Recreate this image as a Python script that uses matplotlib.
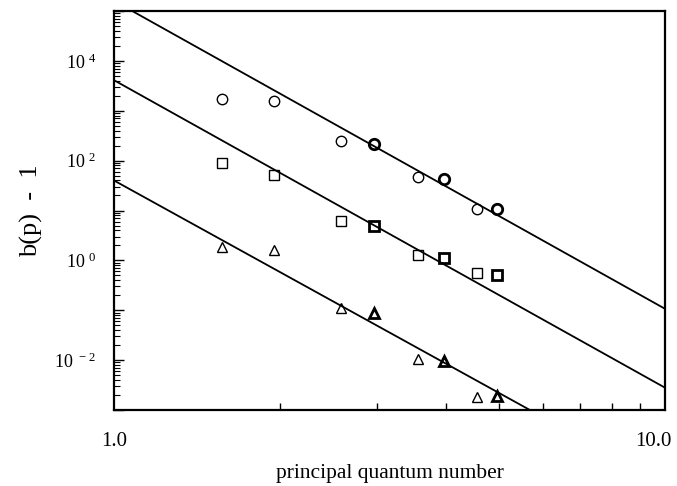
import numpy as np
import matplotlib
matplotlib.use("Agg")
import matplotlib.pyplot as plt
from matplotlib.ticker import FixedLocator, LogLocator, FuncFormatter, NullFormatter
from matplotlib.transforms import ScaledTranslation

# principal quantum number of each measured point
p_open = [1.57, 1.95, 2.58, 3.56, 4.55]
p_bold = [2.96, 3.97, 4.96]

# b(p) - 1
circ_open = [1690, 1540, 242, 46, 10.6]
circ_bold = [220, 43, 10.6]
sq_open = [90.6, 52.5, 6.2, 1.29, 0.548]
sq_bold = [4.85, 1.14, 0.515]
tri_open = [1.85, 1.58, 0.112, 0.0103, 0.00186]
tri_bold = [0.0886, 0.0097, 0.00195]

# fitted lines, values at p = 1 and p = 10
p_line = [1.0, 10.0]
line_top = [1.6e5, 0.107]
line_mid = [4100, 2.8e-3]
line_low = [40, 3.2e-5]

plt.rcParams['font.family'] = ['Liberation Serif', 'DejaVu Serif']
plt.rcParams['mathtext.default'] = 'regular'

fig = plt.figure(figsize=(6.77, 4.86), dpi=100)
ax = fig.add_axes([114/677, 1-410/486, 551/677, 399/486])

for yl in (line_top, line_mid, line_low):
    ax.plot(p_line, yl, color='black', lw=1.3)

mk = dict(ls='none', mfc='none', mec='black', ms=7.5)
ax.plot(p_open, circ_open, marker='o', mew=1.0, **mk)
ax.plot(p_bold, circ_bold, marker='o', mew=2.0, **mk)
ax.plot(p_open, sq_open, marker='s', mew=1.0, **mk)
ax.plot(p_bold, sq_bold, marker='s', mew=2.0, **mk)
ax.plot(p_open, tri_open, marker='^', mew=1.0, **mk)
ax.plot(p_bold, tri_bold, marker='^', mew=2.0, **mk)

ax.set_xscale('log')
ax.set_yscale('log')
ax.set_xlim(1.0, 10.0)
ax.set_ylim(1e-3, 1e5)

for s in ax.spines.values():
    s.set_linewidth(1.6)

# x axis: labels only at the ends, inward minor ticks
ax.xaxis.set_major_locator(FixedLocator([1.0, 10.0]))
ax.xaxis.set_major_formatter(FuncFormatter(lambda v, pos: '%.1f' % v))
ax.xaxis.set_minor_locator(FixedLocator([2, 3, 4, 5, 6, 7, 8, 9]))
ax.xaxis.set_minor_formatter(NullFormatter())
ax.tick_params(axis='x', which='major', length=0, pad=16, labelsize=15)
ax.tick_params(axis='x', which='minor', direction='in', length=5, width=1.0)

# y axis: every decade, label every second one
ax.yaxis.set_major_locator(FixedLocator([10.0**k for k in range(-3, 6)]))


def yfmt(v, pos):
    e = int(round(np.log10(v)))
    if e % 2 == 0 and -2 <= e <= 4:
        return r'$10^{\ %d}$' % e
    return ''


ax.yaxis.set_major_formatter(FuncFormatter(yfmt))
ax.yaxis.set_minor_locator(LogLocator(base=10, subs=np.arange(2, 10), numticks=20))
ax.yaxis.set_minor_formatter(NullFormatter())
ax.tick_params(axis='y', which='major', direction='in', length=7, width=1.0, pad=13, labelsize=13)
ax.tick_params(axis='y', which='minor', direction='in', length=4, width=0.8)

fig.text((114 + 665) / 2 / 677, 1 - 473 / 486, 'principal quantum number',
         fontsize=15.5, ha='center', va='center')
ax.set_ylabel('b(p)  -  1', fontsize=19, labelpad=8)

# keep the 10.0 label inside the figure
fig.canvas.draw()
xlabels = ax.get_xticklabels()
xlabels[-1].set_transform(xlabels[-1].get_transform() + ScaledTranslation(-0.12, 0, fig.dpi_scale_trans))

fig.savefig('out.png', dpi=100)
